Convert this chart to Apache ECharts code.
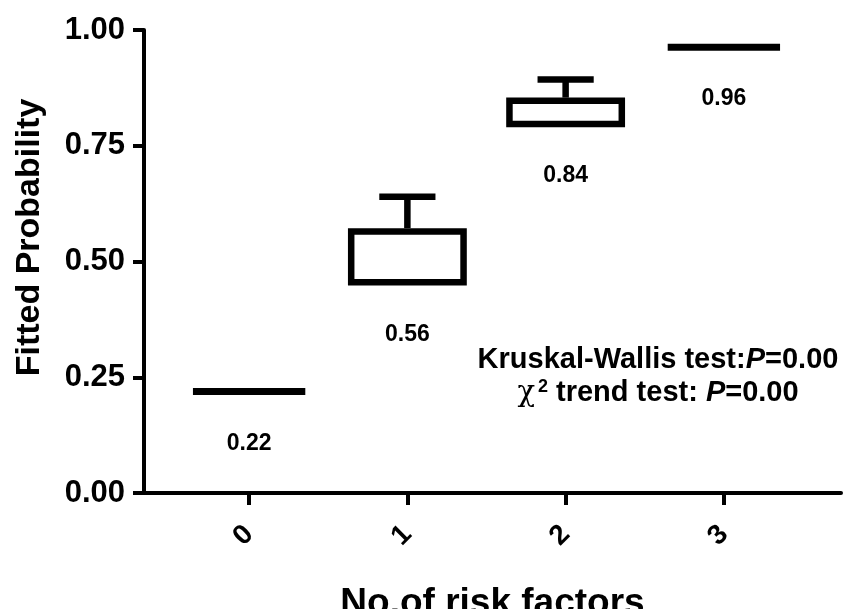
<!DOCTYPE html>
<html>
<head>
<meta charset="utf-8">
<script src="https://cdn.jsdelivr.net/npm/echarts@6/dist/echarts.min.js"></script>
<style>
  html, body { margin: 0; padding: 0; background: #fff; }
  #main { width: 848px; height: 609px; }
</style>
</head>
<body>
<div id="main"></div>
<script>
// 类别（危险因素个数）
var categories = ['0', '1', '2', '3'];
// 箱体数据：最小值 / 下四分位 / 上四分位 / 最大值
var minVals = [0.219, 0.455, 0.797, 0.963];
var q1Vals = [0.219, 0.455, 0.797, 0.963];
var q3Vals = [0.219, 0.565, 0.847, 0.963];
var maxVals = [0.219, 0.640, 0.893, 0.963];
// 箱体下方的数值标签
var labelVals = [0.22, 0.56, 0.84, 0.96];

var font = '"Liberation Sans", Arial, Helvetica, sans-serif';

var boxData = [];
for (var i = 0; i < categories.length; i++) {
  boxData.push([i, minVals[i], q1Vals[i], q3Vals[i], maxVals[i], labelVals[i]]);
}

function renderBox(params, api) {
  var x = api.value(0);
  var pMin = api.coord([x, api.value(1)]);
  var pQ1 = api.coord([x, api.value(2)]);
  var pQ3 = api.coord([x, api.value(3)]);
  var pMax = api.coord([x, api.value(4)]);
  var w = api.size([1, 0])[0] * 0.71;
  var lw = 6.5;
  var st = { stroke: '#000', lineWidth: lw, fill: null };
  var children = [];
  if (Math.abs(pQ1[1] - pQ3[1]) < 1) {
    // 数据重合，只画一条横线
    children.push({ type: 'line', shape: { x1: pQ1[0] - w / 2, y1: pQ1[1], x2: pQ1[0] + w / 2, y2: pQ1[1] },
      style: { stroke: '#000', lineWidth: 7 } });
  } else {
    children.push({ type: 'rect', shape: { x: pQ3[0] - w / 2, y: pQ3[1], width: w, height: pQ1[1] - pQ3[1] },
      style: { stroke: '#000', lineWidth: lw, fill: '#fff' } });
  }
  if (pMax[1] < pQ3[1] - 1) {
    children.push({ type: 'line', shape: { x1: pQ3[0], y1: pQ3[1] - lw / 2, x2: pMax[0], y2: pMax[1] }, style: st });
    children.push({ type: 'line', shape: { x1: pMax[0] - w / 4, y1: pMax[1], x2: pMax[0] + w / 4, y2: pMax[1] }, style: st });
  }
  if (pMin[1] > pQ1[1] + 1) {
    children.push({ type: 'line', shape: { x1: pQ1[0], y1: pQ1[1] + lw / 2, x2: pMin[0], y2: pMin[1] }, style: st });
    children.push({ type: 'line', shape: { x1: pMin[0] - w / 4, y1: pMin[1], x2: pMin[0] + w / 4, y2: pMin[1] }, style: st });
  }
  // 数值标签
  children.push({ type: 'text', style: {
    text: api.value(5).toFixed(2), x: pMin[0], y: pMin[1] + 52,
    align: 'center', verticalAlign: 'middle',
    fill: '#000', font: 'bold 23px ' + font } });
  return { type: 'group', children: children };
}

var chart = echarts.init(document.getElementById('main'));

var option = {
  backgroundColor: '#fff',
  animation: false,
  grid: [
    { left: 144, right: 7, top: 30, bottom: 116, containLabel: false, outerBoundsMode: 'none' },
    { left: 170, right: 45, top: 30, bottom: 116, containLabel: false, outerBoundsMode: 'none' }
  ],
  xAxis: [
    {
      gridIndex: 0, type: 'value', min: 0, max: 1,
      axisLine: { show: true, lineStyle: { color: '#000', width: 4 } },
      axisTick: { show: false }, axisLabel: { show: false }, splitLine: { show: false },
      name: 'No.of risk factors', nameLocation: 'middle', nameGap: 92,
      nameTextStyle: { color: '#000', fontSize: 37, fontWeight: 'bold', fontFamily: font }
    },
    {
      gridIndex: 1, type: 'category', data: categories, boundaryGap: true,
      axisLine: { show: false },
      axisTick: { show: true, alignWithLabel: true, length: 12, lineStyle: { color: '#000', width: 4 } },
      axisLabel: { rotate: 45, margin: 37, color: '#000', fontSize: 28, fontWeight: 'bold', fontFamily: font },
      splitLine: { show: false }
    }
  ],
  yAxis: [
    {
      gridIndex: 0, type: 'value', min: 0, max: 1, interval: 0.25,
      axisLine: { show: true, lineStyle: { color: '#000', width: 4 } },
      axisTick: { show: true, length: 11, lineStyle: { color: '#000', width: 4 } },
      axisLabel: { margin: 19, color: '#000', fontSize: 31, fontWeight: 'bold', fontFamily: font,
        formatter: function (v) { return v.toFixed(2); } },
      splitLine: { show: false },
      name: 'Fitted Probability', nameLocation: 'middle', nameGap: 97,
      nameTextStyle: { color: '#000', fontSize: 34, fontWeight: 'bold', fontFamily: font, padding: [0, 0, 0, 48] }
    },
    { gridIndex: 1, type: 'value', min: 0, max: 1, show: false }
  ],
  graphic: [
    {
      type: 'text',
      style: {
        x: 658, y: 360, align: 'center', verticalAlign: 'middle',
        text: '{b|Kruskal-Wallis test:}{i|P}{b|=0.00}',
        rich: {
          b: { fontSize: 29, fontWeight: 'bold', fontFamily: font, fill: '#000' },
          i: { fontSize: 29, fontWeight: 'bold', fontStyle: 'italic', fontFamily: font, fill: '#000' }
        }
      }
    },
    {
      type: 'text',
      style: {
        x: 658, y: 393, align: 'center', verticalAlign: 'middle',
        text: '{g|χ}{s|2}{b| trend test: }{i|P}{b|=0.00}',
        rich: {
          g: { fontSize: 29, fontFamily: '"DejaVu Serif", serif', fill: '#000', verticalAlign: 'bottom' },
          s: { fontSize: 18, fontWeight: 'bold', fontFamily: font, fill: '#000', verticalAlign: 'top', padding: [0, 0, 12, 3] },
          b: { fontSize: 29, fontWeight: 'bold', fontFamily: font, fill: '#000' },
          i: { fontSize: 29, fontWeight: 'bold', fontStyle: 'italic', fontFamily: font, fill: '#000' }
        }
      }
    }
  ],
  series: [
    {
      type: 'custom',
      xAxisIndex: 1, yAxisIndex: 1,
      renderItem: renderBox,
      encode: { x: 0, y: [1, 2, 3, 4] },
      data: boxData
    }
  ]
};

chart.setOption(option);
</script>
</body>
</html>
